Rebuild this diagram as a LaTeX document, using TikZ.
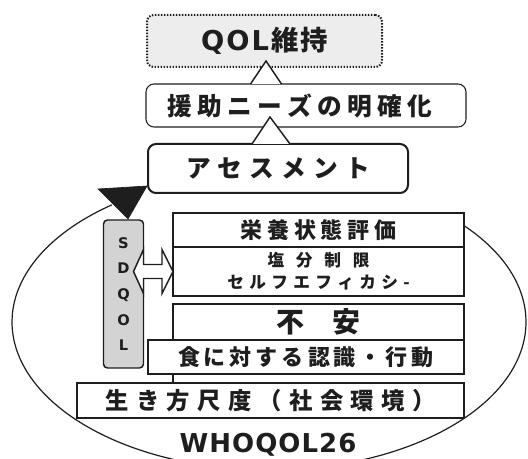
\documentclass[tikz,border=0pt]{standalone}
\usepackage{fontspec}
\usetikzlibrary{calc}
\newfontfamily\jp{Noto Sans CJK JP}
\newfontfamily\lat{DejaVu Sans}
\definecolor{ink}{HTML}{1E1E1E}
\definecolor{qolgray}{HTML}{EDEDED}
\definecolor{sdgray}{HTML}{D3D3D3}
% manual letter spacing: \spacedtext{gap}{chars}
\newcommand\spacedtext[2]{\def\spgap{#1}\spacedloop#2\relax}
\def\spacedloop#1#2{#1\ifx#2\relax\else\hspace{\spgap}\expandafter\spacedloop\expandafter#2\fi}
\tikzset{
  sz/.style 2 args={minimum width=#1*0.75pt, minimum height=#2*0.75pt},
  base/.style={inner sep=0pt, outer sep=0pt, text=ink, align=center},
  qolbox/.style={base, draw=ink, fill=qolgray, line width=1.5pt, dash pattern={on 1.1pt off 1.15pt}, rounded corners=5pt},
  thinbox/.style={base, draw=ink, fill=white, line width=0.8pt, rounded corners=6pt},
  asesbox/.style={base, draw=ink, fill=white, line width=1.5pt, rounded corners=6pt},
  framebox/.style={base, draw=ink, fill=white, line width=1.6pt},
  sdbox/.style={base, draw=ink, fill=sdgray, line width=1.1pt, rounded corners=3pt},
  frameline/.style={draw=ink, line width=1.6pt},
  hollowtri/.style={draw=ink, fill=white, line width=1.1pt, line join=miter},
  solidtri/.style={draw=ink, fill=ink, line width=0.5pt},
  ring/.style={draw=ink, line width=0.9pt},
  jfont/.style={font={\jp\bfseries\fontsize{#1}{#1}\selectfont}},
}
\begin{document}
\begin{tikzpicture}[x=0.75pt,y=-0.75pt]
\useasboundingbox (0,0) rectangle (528,459);

% outer elliptical arc (WHOQOL26)
\coordinate (ec) at (269,322);
\draw[ring] ($(ec)+(-40.6:257 and 148)$) arc[start angle=-40.6, end angle=232.3, x radius=257, y radius=148];

% top chain
\node[qolbox, sz={235}{52}, font={\jp\bfseries\fontsize{20.5}{20.5}\selectfont}] (qol) at (264.5,41)
  {{\lat\bfseries\spacedtext{1.5pt}{QOL}}\hspace{1.5pt}\spacedtext{1.5pt}{維持}};
\node[thinbox, sz={320}{43}, jfont=18.5] (yuan) at (306,105.5)
  {\hspace{-9pt}\spacedtext{4pt}{援助ニーズの明確化}};
\node[asesbox, sz={260}{49}, jfont=18.5] (ases) at (278,168.5)
  {\spacedtext{5.4pt}{アセスメント}};

% hollow triangle connectors
\coordinate (t1) at (qol.south |- yuan.north);
\draw[hollowtri] ($(t1)+(-14,0)$) -- ($(t1)+(1.5,-23)$) -- ($(t1)+(17,0)$);
\coordinate (t2) at ($(ases.north)+(-7,0)$);
\draw[hollowtri] ($(t2)+(-19,0)$) -- ($(t2)+(-1,-27)$) -- ($(t2)+(19,0)$);

% right-hand frame
\node[framebox, sz={291}{34}, jfont=16.5] (eiyo) at (318.5,230)
  {\spacedtext{3.5pt}{栄養状態評価}};
\node[framebox, sz={291}{49}, font={\jp\bfseries\fontsize{12.5}{16.5}\selectfont}] (enbun) at (318.5,271.5)
  {\spacedtext{8.8pt}{塩分制限}\\\spacedtext{4pt}{セルフエフィカシ-}};
\node[framebox, sz={291}{36}, jfont=21] (fuan) at (318.5,322)
  {不　安};
\draw[frameline] (fuan.south west) -- (fuan.south west |- 0,383);
\node[framebox, sz={316}{34}, jfont=16.5] (shoku) at (306,357)
  {\spacedtext{3pt}{食に対する認識・行動}};
\node[framebox, sz={387}{35}, jfont=17.5] (iki) at (270.5,400.5)
  {\spacedtext{5.5pt}{生き方尺度（社会環境）}};

% SDQOL column
\node[sdbox, sz={40}{148}, font={\lat\bfseries\fontsize{11}{19.2}\selectfont}] (sd) at (123.5,294)
  {S\\D\\Q\\O\\L};

% black arrowhead from assessment to SDQOL
\draw[solidtri] ($(sd.north)+(-25.5,-31)$) -- ($(sd.north)+(23.5,-34)$) -- ($(sd.north)+(4.5,-1)$) -- cycle;

% double hollow arrow between SDQOL and frame
\coordinate (dl) at (sd.east |- enbun.west);
\coordinate (dr) at (enbun.west);
\draw[hollowtri] ($(dl)+(-10,0)$) -- ($(dl)+(0,-22)$) -- ($(dl)+(0,-7)$) -- ($(dr)+(-11,-7)$)
  -- ($(dr)+(-11,-22)$) -- (dr) -- ($(dr)+(-11,22)$) -- ($(dr)+(-11,7)$)
  -- ($(dl)+(0,7)$) -- ($(dl)+(0,22)$) -- cycle;

% label
\node[base, font={\lat\bfseries\fontsize{19.5}{19.5}\selectfont}] (who) at (268,445)
  {\spacedtext{0.8pt}{WHOQOL26}};
\end{tikzpicture}
\end{document}
